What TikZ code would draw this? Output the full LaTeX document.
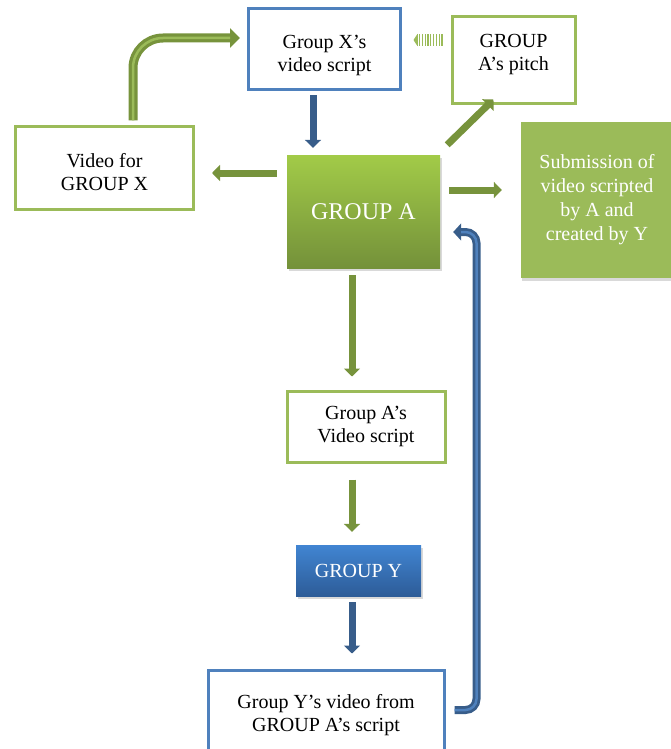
\documentclass[tikz,border=0pt]{standalone}
\usepackage{fontspec}
\setmainfont{Liberation Serif}
\usetikzlibrary{arrows.meta,shadows}
\definecolor{boxblue}{HTML}{4F81BD}
\definecolor{boxgreen}{HTML}{9BBB59}
\definecolor{arrgreen}{HTML}{77933C}
\definecolor{arrblue}{HTML}{385D8A}
\definecolor{topgreen}{HTML}{A2CB48}
\definecolor{botgreen}{HTML}{74913A}
\definecolor{topblue}{HTML}{4185D2}
\definecolor{botblue}{HTML}{2D5C98}
\tikzstyle{bluebox} = [rectangle, draw=boxblue, line width=3pt, fill=white, align=center, inner sep=0pt, font=\fontsize{20}{23}\selectfont]
\tikzstyle{greenbox} = [rectangle, draw=boxgreen, line width=3pt, fill=white, align=center, inner sep=0pt, font=\fontsize{20}{23}\selectfont]
\tikzstyle{greenfill} = [rectangle, fill=boxgreen, text=white, align=center, inner sep=0pt, font=\fontsize{20}{24}\selectfont, drop shadow={shadow xshift=1pt, shadow yshift=-3pt, opacity=.3}]
\tikzstyle{groupbox} = [rectangle, text=white, align=center, inner sep=0pt, drop shadow={shadow xshift=2pt, shadow yshift=-3pt, opacity=.3}]
\tikzstyle{arrow} = [line width=7pt, -{Triangle[length=8pt,width=16pt]}]
\tikzstyle{thickline} = [rounded corners=30pt]

\begin{document}
\begin{tikzpicture}[x=1pt,y=-1pt]
\useasboundingbox (0,0) rectangle (670,749);

\node (xscript) [bluebox, minimum width=152pt, minimum height=81pt, text height=48pt] at (324.5,49.5) {Group X’s\\video script};
\node (pitch) [greenbox, minimum width=123pt, minimum height=87pt, text depth=16pt] at (513.5,60.5) {GROUP\\A’s pitch};
\node (vidx) [greenbox, minimum width=178pt, minimum height=82pt, text height=45pt] at (104.5,168) {Video for\\GROUP X};
\node (groupa) [groupbox, top color=topgreen, bottom color=botgreen, minimum width=153pt, minimum height=113pt, font=\fontsize{24}{28}\selectfont] at (363.5,211.5) {GROUP A};
\node (submit) [greenfill, minimum width=152pt, minimum height=156pt] at (597,200) {Submission of\\video scripted\\by A and\\created by Y};
\node (ascript) [greenbox, minimum width=158pt, minimum height=71pt] at (366,426.5) {Group A’s\\Video script};
\node (groupy) [groupbox, top color=topblue, bottom color=botblue, minimum width=125pt, minimum height=51pt, font=\fontsize{20}{23}\selectfont] at (358.5,570.5) {GROUP Y};
\node (yvideo) [bluebox, minimum width=236pt, minimum height=90pt] at (326,715) {Group Y’s video from\\GROUP A’s script};

% arrows out of GROUP A
\draw [arrow, arrblue] ([shift={(-11.5pt,-4pt)}]xscript.south) -- ([shift={(-50.5pt,7pt)}]groupa.north);
\draw [arrow, arrgreen] ([shift={(-10pt,38.5pt)}]groupa.west) -- ([shift={(17pt,-5pt)}]vidx.east);
\draw [arrow, arrgreen] ([shift={(7pt,10pt)}]groupa.north east) -- ([shift={(43pt,6pt)}]pitch.south west);
\draw [arrow, arrgreen] ([shift={(9pt,21.5pt)}]groupa.east) -- ([shift={(-19pt,10pt)}]submit.west);

% loop back to group X
\draw [thickline, arrgreen, line width=9pt, -{Triangle[length=10pt,width=19pt]}] ([shift={(28.5pt,5pt)}]vidx.north) |- ([shift={(-7pt,11.5pt)}]xscript.west);
\draw [thickline, boxgreen, line width=2.5pt, shorten >=10pt] ([shift={(28.5pt,5pt)}]vidx.north) |- ([shift={(-7pt,11.5pt)}]xscript.west);
\draw [boxgreen, line width=12pt, dash pattern=on 1.2pt off 1.6pt, -{Triangle[length=4pt,width=12pt]}] ([shift={(-8pt,20.5pt)}]pitch.west) -- ([shift={(11.5pt,9.5pt)}]xscript.east);

% down the column
\draw [arrow, arrgreen] ([shift={(-11.5pt,-7pt)}]groupa.south) -- ([shift={(-14pt,13pt)}]ascript.north);
\draw [arrow, arrgreen] ([shift={(-14pt,-16pt)}]ascript.south) -- ([shift={(-6.5pt,13pt)}]groupy.north);
\draw [arrow, arrblue] ([shift={(-6.5pt,-6pt)}]groupy.south) -- ([shift={(26pt,15pt)}]yvideo.north);

% return to GROUP A
\draw [rounded corners=11pt, arrblue, line width=8pt, -{Triangle[length=8pt,width=17pt]}] ([shift={(9pt,5pt)}]yvideo.east) -- ++(22,0) |- ([shift={(13pt,-20.5pt)}]groupa.east);
\draw [rounded corners=11pt, boxblue, line width=2.5pt, shorten >=8pt] ([shift={(9pt,5pt)}]yvideo.east) -- ++(22,0) |- ([shift={(13pt,-20.5pt)}]groupa.east);
\end{tikzpicture}
\end{document}
